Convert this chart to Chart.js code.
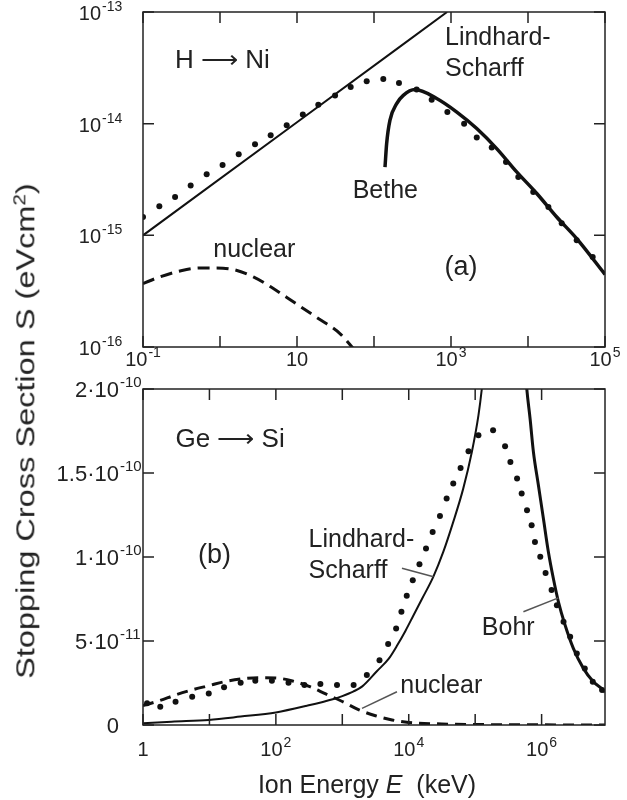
<!DOCTYPE html>
<html>
<head>
<meta charset="utf-8">
<script src="https://cdn.jsdelivr.net/npm/chart.js@4.4.0/dist/chart.umd.min.js"></script>
<style>
  body { margin: 0; background: #fff; }
  #wrap { position: relative; width: 627px; height: 800px; font-family: "Liberation Sans", Arial, sans-serif; color: #222; }
  canvas { position: absolute; left: 0; top: 0; }
  #ytitle { position: absolute; left: 23px; top: 431px; white-space: nowrap; font-size: 25px; line-height: 29px;
            transform: translate(-50%, -50%) rotate(-90deg) scaleX(1.3); }
  #xtitle { position: absolute; left: 367px; top: 770px; white-space: nowrap; font-size: 25px; line-height: 29px;
            transform: translateX(-50%); }
</style>
</head>
<body>
<div id="wrap">
  <canvas id="topChart" width="627" height="800"></canvas>
  <canvas id="bottomChart" width="627" height="800"></canvas>
  <div id="ytitle">Stopping Cross Section S (eVcm<sup style="font-size:16px">2</sup>)</div>
  <div id="xtitle">Ion Energy <i>E</i>&nbsp; (keV)</div>
</div>
<script>
// ---- (a) H -> Ni, log-log ----
const topLsE = [0.1, 10, 890];
const topLsS = [1e-15, 1.03e-14, 1e-13];

const betheE = [139, 146, 161, 197, 240, 340, 652, 1190, 2160, 3920, 7130, 13000, 23600, 42900, 100000];
const betheS = [4.09e-15, 6.64e-15, 1.07e-14, 1.51e-14, 1.79e-14, 2.02e-14, 1.68e-14, 1.27e-14,
                9.04e-15, 5.98e-15, 3.70e-15, 2.37e-15, 1.46e-15, 9.35e-16, 4.47e-16];

const topNucE = [0.1, 0.166, 0.303, 0.55, 0.906, 1.49, 2.71, 4.93, 8.95, 18.9, 36.1, 53.8];
const topNucS = [3.70e-16, 4.25e-16, 4.80e-16, 5.11e-16, 5.11e-16, 4.94e-16, 4.25e-16, 3.34e-16,
                 2.54e-16, 1.80e-16, 1.32e-16, 9.7e-17];

const topDotE = [0.1, 0.163, 0.261, 0.416, 0.671, 1.08, 1.75, 2.85, 4.55, 7.35, 11.9, 18.9, 31.2, 49.8,
                 80.4, 132, 211, 358, 561, 897, 1480, 2160, 3380, 5180, 7480, 11700, 18400, 27400, 42900, 69200];
const topDotS = [1.46e-15, 1.82e-15, 2.21e-15, 2.79e-15, 3.52e-15, 4.27e-15, 5.32e-15, 6.53e-15, 7.87e-15,
                 9.68e-15, 1.205e-14, 1.48e-14, 1.79e-14, 2.13e-14, 2.40e-14, 2.51e-14, 2.31e-14, 2.02e-14,
                 1.64e-14, 1.27e-14, 1.00e-14, 7.52e-15, 6.11e-15, 4.54e-15, 3.33e-15, 2.45e-15, 1.79e-15,
                 1.28e-15, 9.04e-16, 6.41e-16];

const topXTicks = [0.1, 1, 10, 100, 1000, 1e4, 1e5];
const topXBase = ['10', '', '10', '', '10', '', '10'];
const topXExp = ['-1', '', '', '', '3', '', '5'];
const topYTicks = [1e-16, 1e-15, 1e-14, 1e-13];
const topYBase = ['10', '10', '10', '10'];
const topYExp = ['-16', '-15', '-14', '-13'];

// ---- (b) Ge -> Si, log-linear ----
const botLsE = [1, 2.69, 9.77, 29.5, 100, 295, 741, 1000, 1480, 2000, 3310, 5010, 6610, 8910, 11700,
                15800, 23400, 33100, 46800, 66100, 89100, 112000, 126000, 141000];
const botLsS = [1.0e-12, 2.0e-12, 3.0e-12, 5.0e-12, 7.5e-12, 1.15e-11, 1.55e-11, 1.72e-11, 2.0e-11, 2.3e-11,
                3.2e-11, 3.95e-11, 4.7e-11, 5.6e-11, 6.5e-11, 7.5e-11, 8.82e-11, 1.03e-10, 1.209e-10,
                1.407e-10, 1.625e-10, 1.843e-10, 2.002e-10, 2.2e-10];

const bohrE = [550000, 598000, 671000, 753000, 895000, 1.064e6, 1.265e6, 1.503e6, 1.791e6, 2.254e6,
               3.006e6, 4.256e6, 6.01e6, 8.49e6, 9.0e6];
const bohrS = [2.2e-10, 2.002e-10, 1.823e-10, 1.625e-10, 1.427e-10, 1.229e-10, 1.03e-10, 8.72e-11, 7.33e-11,
               5.95e-11, 4.56e-11, 3.37e-11, 2.57e-11, 2.08e-11, 1.95e-11];

const botNucE = [1, 1.78, 3.16, 5.62, 10, 17.8, 31.6, 56.2, 100, 178, 316, 562, 1000, 1780, 3160, 5620,
                 1e4, 31600, 1e5, 1e6, 9e6];
const botNucS = [1.15e-11, 1.45e-11, 1.8e-11, 2.1e-11, 2.35e-11, 2.6e-11, 2.75e-11, 2.82e-11, 2.8e-11,
                 2.62e-11, 2.3e-11, 1.85e-11, 1.4e-11, 9e-12, 5.5e-12, 3e-12, 1.5e-12, 6e-13, 3e-13, 1e-13, 0];

const botDotE = [1.15, 1.82, 3.09, 5.5, 9.77, 16.6, 29.5, 49, 87.1, 155, 269, 468, 832, 1480, 2340, 3630,
                 4900, 6460, 7760, 9330, 11500, 14500, 18200, 22900, 29500, 37200, 46800, 60300, 79400,
                 112000, 186000, 282000, 339000, 427000, 501000, 603000, 708000, 794000, 955000, 1.148e6,
                 1.413e6, 1.698e6, 2.138e6, 2.692e6, 3.388e6, 4.467e6, 5.888e6, 8.128e6];
const botDotS = [1.29e-11, 1.09e-11, 1.39e-11, 1.68e-11, 1.88e-11, 2.24e-11, 2.51e-11, 2.63e-11, 2.63e-11,
                 2.51e-11, 2.38e-11, 2.44e-11, 2.38e-11, 2.38e-11, 2.97e-11, 3.86e-11, 4.82e-11, 5.75e-11,
                 6.74e-11, 7.69e-11, 8.62e-11, 9.57e-11, 1.051e-10, 1.149e-10, 1.244e-10, 1.348e-10, 1.437e-10,
                 1.530e-10, 1.629e-10, 1.724e-10, 1.754e-10, 1.659e-10, 1.565e-10, 1.467e-10, 1.378e-10,
                 1.278e-10, 1.189e-10, 1.090e-10, 1.001e-10, 9.05e-11, 8.03e-11, 7.13e-11, 6.14e-11, 5.25e-11,
                 4.26e-11, 3.37e-11, 2.57e-11, 2.08e-11];

const botXTicks = [1, 10, 100, 1000, 1e4, 1e5, 1e6];
const botXBase = ['1', '', '10', '', '10', '', '10'];
const botXExp = ['', '', '2', '', '4', '', '6'];
const botYTicks = [0, 5e-11, 1e-10, 1.5e-10, 2e-10];
const botYBase = ['0', '5·10', '1·10', '1.5·10', '2·10'];
const botYExp = ['', '-11', '-10', '-10', '-10'];

const FONT = '"Liberation Sans", Arial, sans-serif';
const INK = '#111';
const TEXT = '#222';

function pairs(xs, ys) {
  return xs.map((x, i) => ({ x: x, y: ys[i] }));
}

// label with raised exponent; align 'center' centres the whole label, 'right' puts the base's right edge at x
function drawSup(ctx, base, exp, x, y, align, size) {
  const bf = size + 'px ' + FONT;
  const ef = Math.round(size * 0.7) + 'px ' + FONT;
  ctx.font = bf;
  const bw = ctx.measureText(base).width;
  ctx.font = ef;
  const ew = exp ? ctx.measureText(exp).width + 1 : 0;
  const x0 = align === 'center' ? x - (bw + ew) / 2 : x - bw;
  ctx.textAlign = 'left';
  ctx.textBaseline = 'alphabetic';
  ctx.font = bf;
  ctx.fillText(base, x0, y);
  if (exp) {
    ctx.font = ef;
    ctx.fillText(exp, x0 + bw + 1, y - Math.round(size * 0.45));
  }
}

// frame, inward ticks, tick labels and in-plot notes
const framePlugin = {
  id: 'frame',
  afterDatasetsDraw(chart, args, o) {
    const ctx = chart.ctx;
    const a = chart.chartArea;
    const xs = chart.scales.x, ys = chart.scales.y;
    ctx.save();
    ctx.strokeStyle = '#222';
    ctx.lineWidth = 1.5;
    ctx.strokeRect(a.left, a.top, a.right - a.left, a.bottom - a.top);

    ctx.beginPath();
    o.xTicks.forEach(v => {
      const px = xs.getPixelForValue(v);
      ctx.moveTo(px, a.bottom); ctx.lineTo(px, a.bottom - 11);
      ctx.moveTo(px, a.top); ctx.lineTo(px, a.top + 11);
    });
    o.yTicks.forEach(v => {
      const py = ys.getPixelForValue(v);
      ctx.moveTo(a.left, py); ctx.lineTo(a.left + 11, py);
      ctx.moveTo(a.right, py); ctx.lineTo(a.right - 11, py);
    });
    ctx.stroke();

    ctx.fillStyle = TEXT;
    o.xTicks.forEach((v, i) => {
      if (o.xBase[i]) drawSup(ctx, o.xBase[i], o.xExp[i], xs.getPixelForValue(v), o.xLabelY, 'center', o.xSize);
    });
    o.yTicks.forEach((v, i) => {
      if (o.yBase[i]) drawSup(ctx, o.yBase[i], o.yExp[i], o.yLabelX, ys.getPixelForValue(v) + 8, 'right', o.ySize);
    });

    (o.leaders || []).forEach(l => {
      ctx.strokeStyle = '#555';
      ctx.lineWidth = 1.5;
      ctx.beginPath();
      ctx.moveTo(xs.getPixelForValue(l[0]), ys.getPixelForValue(l[1]));
      ctx.lineTo(xs.getPixelForValue(l[2]), ys.getPixelForValue(l[3]));
      ctx.stroke();
    });

    o.notes.forEach(n => {
      ctx.font = (n.size || 25) + 'px ' + FONT;
      ctx.textAlign = n.align || 'left';
      ctx.textBaseline = 'alphabetic';
      const px = xs.getPixelForValue(n.x);
      const py = ys.getPixelForValue(n.y);
      n.text.split('\n').forEach((line, k) => ctx.fillText(line, px, py + k * 31));
    });
    ctx.restore();
  }
};

function lineSet(data, width, extra) {
  return Object.assign({
    data: data, showLine: true, borderColor: INK, borderWidth: width,
    pointRadius: 0, fill: false, cubicInterpolationMode: 'monotone'
  }, extra || {});
}

function dotSet(data) {
  return { data: data, showLine: false, pointRadius: 3, pointBackgroundColor: INK, pointBorderWidth: 0 };
}

// Gráfico (a)
new Chart(document.getElementById('topChart'), {
  type: 'scatter',
  data: {
    datasets: [
      lineSet(pairs(topLsE, topLsS), 2),
      lineSet(pairs(betheE, betheS), 3.5),
      lineSet(pairs(topNucE, topNucS), 3, { borderDash: [12, 7] }),
      dotSet(pairs(topDotE, topDotS))
    ]
  },
  options: {
    responsive: false,
    animation: false,
    devicePixelRatio: 1,
    layout: { padding: { left: 143, right: 22, top: 12, bottom: 453 } },
    scales: {
      x: { type: 'logarithmic', min: 0.1, max: 1e5, display: false },
      y: { type: 'logarithmic', min: 1e-16, max: 1e-13, display: false }
    },
    plugins: {
      legend: { display: false },
      tooltip: { enabled: false },
      frame: {
        xTicks: topXTicks, xBase: topXBase, xExp: topXExp, xLabelY: 366, xSize: 20,
        yTicks: topYTicks, yBase: topYBase, yExp: topYExp, yLabelX: 101, ySize: 20,
        notes: [
          { text: 'H \u27f6 Ni', x: 0.26, y: 3.13e-14, size: 26 },
          { text: 'Lindhard-\nScharff', x: 836, y: 5.03e-14 },
          { text: 'Bethe', x: 52.8, y: 2.15e-15 },
          { text: 'nuclear', x: 0.818, y: 6.4e-16 },
          { text: '(a)', x: 1350, y: 4.4e-16, align: 'center', size: 27 }
        ]
      }
    }
  },
  plugins: [framePlugin]
});

// Gráfico (b)
new Chart(document.getElementById('bottomChart'), {
  type: 'scatter',
  data: {
    datasets: [
      lineSet(pairs(botLsE, botLsS), 2),
      lineSet(pairs(bohrE, bohrS), 3),
      lineSet(pairs(botNucE, botNucS), 3, { borderDash: [11, 7] }),
      dotSet(pairs(botDotE, botDotS))
    ]
  },
  options: {
    responsive: false,
    animation: false,
    devicePixelRatio: 1,
    layout: { padding: { left: 143, right: 22, top: 389, bottom: 75 } },
    scales: {
      x: { type: 'logarithmic', min: 1, max: 9e6, display: false },
      y: { type: 'linear', min: 0, max: 2e-10, display: false }
    },
    plugins: {
      legend: { display: false },
      tooltip: { enabled: false },
      frame: {
        xTicks: botXTicks, xBase: botXBase, xExp: botXExp, xLabelY: 756, xSize: 20,
        yTicks: botYTicks, yBase: botYBase, yExp: botYExp, yLabelX: 119, ySize: 22,
        leaders: [
          [7910, 9.33e-11, 23600, 8.82e-11],
          [532000, 6.74e-11, 1.79e6, 7.57e-11],
          [6650, 1.98e-11, 1980, 0.99e-11]
        ],
        notes: [
          { text: 'Ge \u27f6 Si', x: 3.08, y: 1.655e-10, size: 26 },
          { text: '(b)', x: 11.9, y: 9.63e-11, align: 'center', size: 27 },
          { text: 'Lindhard-\nScharff', x: 311, y: 1.06e-10 },
          { text: 'Bohr', x: 126000, y: 5.35e-11 },
          { text: 'nuclear', x: 7450, y: 1.88e-11 }
        ]
      }
    }
  },
  plugins: [framePlugin]
});
</script>
</body>
</html>
